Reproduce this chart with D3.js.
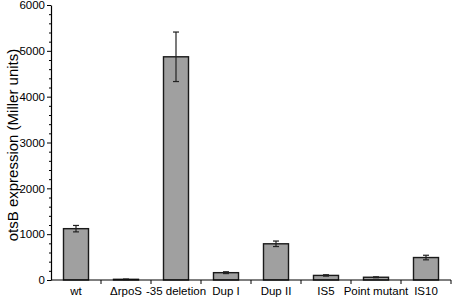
<!DOCTYPE html>
<html><head><meta charset="utf-8">
<script src="https://cdn.jsdelivr.net/npm/d3@7"></script>
<style>body{margin:0;background:#fff}svg{display:block}text{font-family:"Liberation Sans",Arial,sans-serif;fill:#000}</style>
</head><body><svg id="c" width="453" height="297"></svg>
<script>
const categories = ["wt","\u0394rpoS","-35 deletion","Dup I","Dup II","IS5","Point mutant","IS10"];
const values = [1120, 15, 4870, 160, 790, 100, 60, 490];
const errors = [70, 5, 540, 20, 60, 15, 10, 50];
const yTicks = [0,1000,2000,3000,4000,5000,6000];
const yLabel = "otsB expression (Miller units)";

const svg = d3.select("#c");
const x0 = 51, x1 = 451, yTop = 5, yBot = 280;
const x = d3.scaleBand().domain(categories).range([x0, x1]).paddingInner(0.5).paddingOuter(0.25);
const y = d3.scaleLinear().domain([0, 6000]).range([yBot, yTop]);

// bars
svg.selectAll("rect.bar").data(categories).join("rect")
  .attr("x", d => x(d)).attr("width", x.bandwidth())
  .attr("y", (d,i) => y(values[i])).attr("height", (d,i) => yBot - y(values[i]))
  .attr("fill", "#a0a0a0").attr("stroke", "#1a1a1a").attr("stroke-width", 1.4);

// error bars
const eg = svg.append("g").attr("stroke", "#222").attr("stroke-width", 1.2);
categories.forEach((c,i) => {
  const cx = x(c) + x.bandwidth()/2;
  const hi = y(values[i] + errors[i]), lo = y(values[i] - errors[i]);
  eg.append("line").attr("x1", cx).attr("x2", cx).attr("y1", hi).attr("y2", lo);
  eg.append("line").attr("x1", cx-3).attr("x2", cx+3).attr("y1", hi).attr("y2", hi);
  eg.append("line").attr("x1", cx-3).attr("x2", cx+3).attr("y1", lo).attr("y2", lo);
});

// y axis minor ticks
const minor = d3.range(0, 6001, 200).filter(v => v % 1000 !== 0);
svg.append("g").attr("transform", `translate(${x0},0)`)
  .call(d3.axisLeft(y).tickValues(minor).tickSize(2).tickFormat(""))
  .call(g => g.select(".domain").remove())
  .selectAll("line").attr("stroke", "#000");
// y axis major
const ya = svg.append("g").attr("transform", `translate(${x0},0)`)
  .call(d3.axisLeft(y).tickValues(yTicks).tickSize(4).tickPadding(2).tickSizeOuter(0).tickFormat(d3.format("d")));
ya.selectAll("text").attr("font-size", 11.5).attr("font-family", "Liberation Sans, Arial");
ya.select(".domain").attr("stroke", "#000").attr("stroke-width", 1.2);

// x axis
const xb = svg.append("g").attr("transform", `translate(0,${yBot})`);
xb.append("line").attr("x1", x0).attr("x2", x1).attr("stroke", "#000").attr("stroke-width", 1.2);
const bounds = d3.range(categories.length + 1).map(i => x0 + i * (x1 - x0) / categories.length);
xb.selectAll("line.t").data(bounds.slice(1)).join("line")
  .attr("x1", d => d).attr("x2", d => d).attr("y1", 0).attr("y2", 4).attr("stroke", "#000");
xb.selectAll("text").data(categories).join("text")
  .attr("x", d => x(d) + x.bandwidth()/2).attr("y", 15)
  .attr("text-anchor", "middle").attr("font-size", 11.5).text(d => d);

// y label
svg.append("text").attr("transform", `translate(18,145) rotate(-90)`)
  .attr("text-anchor", "middle").attr("font-size", 15).text(yLabel);
</script></body></html>
